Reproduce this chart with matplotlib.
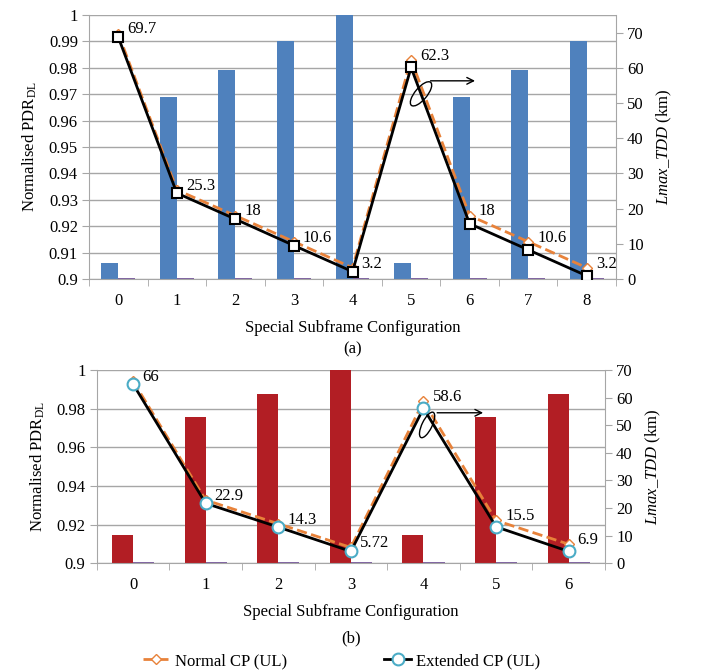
#!/usr/bin/env python3
"""Normalised PDR bars with Lmax_TDD lines, two panels (a) and (b)."""

import matplotlib

matplotlib.use("Agg")
import matplotlib.pyplot as plt
import matplotlib.transforms as mtransforms
from matplotlib.patches import Ellipse
import numpy as np

plt.rcParams["font.family"] = ["Liberation Serif", "DejaVu Serif"]
plt.rcParams["mathtext.fontset"] = "custom"
plt.rcParams["mathtext.rm"] = "Liberation Serif"
plt.rcParams["mathtext.it"] = "Liberation Serif:italic"
plt.rcParams["font.size"] = 12

# panel (a)
cfg_a = ["0", "1", "2", "3", "4", "5", "6", "7", "8"]
pdr_a = [0.906, 0.969, 0.979, 0.990, 1.0, 0.906, 0.969, 0.979, 0.990]
pdr2_a = [0.9004, 0.9004, 0.9004, 0.9004, 0.9004, 0.9004, 0.9004, 0.9004, 0.9004]
normal_a = [69.7, 25.3, 18, 10.6, 3.2, 62.3, 18, 10.6, 3.2]
extended_a = [68.7, 24.4, 17.0, 9.5, 2.1, 60.1, 15.7, 8.3, 0.9]

# panel (b)
cfg_b = ["0", "1", "2", "3", "4", "5", "6"]
pdr_b = [0.9147, 0.9755, 0.9877, 1.0, 0.9147, 0.9755, 0.9877]
pdr2_b = [0.9004, 0.9004, 0.9004, 0.9004, 0.9004, 0.9004, 0.9004]
normal_b = [66, 22.9, 14.3, 5.72, 58.6, 15.5, 6.9]
extended_b = [64.9, 21.7, 13.1, 4.3, 56.1, 13.2, 4.3]

GRID = "#A6A6A6"
ORANGE = "#E8823A"


def draw_panel(fig, rect, cats, pdr, pdr2, normal, extended, bar_color,
               yticks, r_top, ext_marker, ext_edge, ext_size):
    ax = fig.add_axes(rect)
    x = np.arange(len(cats))
    w = 0.29
    ax.bar(x - w / 2, pdr, width=w, color=bar_color, zorder=2)
    ax.bar(x + w / 2, pdr2, width=w, color="#8064A2", zorder=2)
    ax.set_xlim(-0.5, len(cats) - 0.5)
    ax.set_ylim(0.9, 1.0)
    ax.set_yticks(yticks)
    ax.set_yticklabels([f"{v:g}" for v in yticks])
    ax.set_xticks(x)
    ax.set_xticklabels(cats)
    ax.set_xticks(np.arange(len(cats) + 1) - 0.5, minor=True)
    ax.tick_params(axis="x", which="major", length=0, pad=10)
    ax.tick_params(axis="x", which="minor", length=5, color=GRID)
    ax.tick_params(axis="y", length=5, color=GRID, pad=3)
    ax.yaxis.grid(True, color=GRID, lw=1)
    ax.set_axisbelow(True)
    for s in ["top", "right"]:
        ax.spines[s].set_visible(False)
    for s in ["left", "bottom"]:
        ax.spines[s].set_color(GRID)
    ax.set_ylabel("Normalised PDR$_{\\mathrm{DL}}$", labelpad=7)
    ax.set_xlabel("Special Subframe Configuration", labelpad=8)

    ax2 = ax.twinx()
    ax2.set_ylim(0, r_top)
    ax2.set_yticks(np.arange(0, 71, 10))
    ax2.tick_params(axis="y", length=5, color=GRID, pad=3)
    for s in ["top", "left", "bottom"]:
        ax2.spines[s].set_visible(False)
    ax2.spines["right"].set_color(GRID)
    ax2.set_ylabel("$\\mathit{Lmax\\_TDD}$ (km)", labelpad=8)

    ax2.plot(x, normal, color=ORANGE, ls="--", lw=2, marker="D", ms=5,
             mfc="white", mec=ORANGE, mew=1, label="Normal CP (UL)", zorder=3)
    ax2.plot(x, extended, color="black", lw=2, marker=ext_marker, ms=ext_size,
             mfc="white", mec=ext_edge, mew=1.5, label="Extended CP (UL)", zorder=4)
    for xi, v in zip(x, normal):
        ax2.annotate(f"{v:g}", (xi, v), xytext=(6.5, 3), textcoords="offset points",
                     ha="left", va="center", fontsize=12, zorder=5)
    return ax, ax2


fig = plt.figure(figsize=(7.02, 6.70), dpi=100)

ax_a, ax2_a = draw_panel(fig, [0.1268, 0.5836, 0.7507, 0.394], cfg_a, pdr_a, pdr2_a,
                         normal_a, extended_a, "#4F81BD",
                         np.round(np.arange(0.9, 1.0001, 0.01), 2), 75,
                         "s", "black", 7.5)
ax_b, ax2_b = draw_panel(fig, [0.1378, 0.1593, 0.724, 0.2885], cfg_b, pdr_b, pdr2_b,
                         normal_b, extended_b, "#B21E24",
                         np.round(np.arange(0.9, 1.0001, 0.02), 2), 70,
                         "o", "#4BACC6", 8.5)

# ellipse + arrow pointing to right axis
for ax2, (ex, ey), ang, (w, h), (x0, x1, ya) in [
    (ax2_a, (5.17, 52.6), 50, (0.30, 0.12), (5.285, 6.14, 56.3)),
    (ax2_b, (4.05, 50.1), 64, (0.28, 0.10), (4.15, 4.86, 54.5)),
]:
    trans = fig.dpi_scale_trans + mtransforms.ScaledTranslation(ex, ey, ax2.transData)
    ax2.add_patch(Ellipse((0, 0), w, h, angle=ang, fill=False, ec="black",
                          lw=1, transform=trans, zorder=6))
    ax2.annotate("", xy=(x1, ya), xytext=(x0, ya),
                 arrowprops=dict(arrowstyle="->", color="black", lw=1), zorder=6)

fig.text(0.502, 1 - 349 / 670, "(a)", ha="center", va="center", fontsize=12)
fig.text(0.5, 1 - 638 / 670, "(b)", ha="center", va="center", fontsize=12)

handles, labels = ax2_b.get_legend_handles_labels()
fig.legend(handles, labels, loc="center", bbox_to_anchor=(0.4865, 1 - 661 / 670),
           ncol=2, frameon=False, columnspacing=5.85, handlelength=1.6,
           handletextpad=0.3, fontsize=12)

fig.savefig("out.png", dpi=100)
